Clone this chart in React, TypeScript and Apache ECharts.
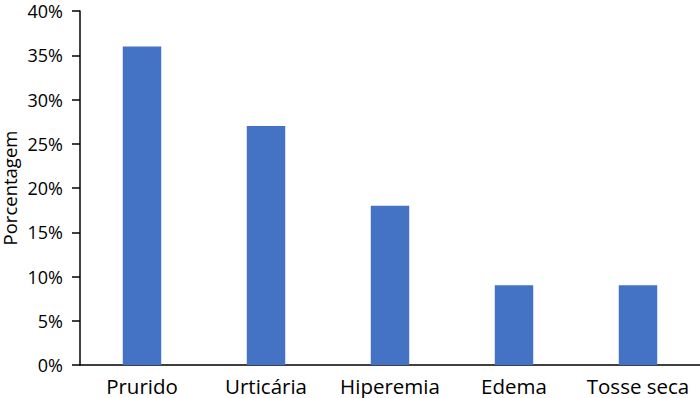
import React, { useEffect, useRef } from "react";
import * as echarts from "echarts";

const categories = ["Prurido", "Urticária", "Hiperemia", "Edema", "Tosse seca"];
const values = [36, 27, 18, 9, 9];
const yTicks = { min: 0, max: 40, interval: 5 };

export default function App() {
  const ref = useRef<HTMLDivElement>(null);
  useEffect(() => {
    const chart = echarts.init(ref.current!, null, { renderer: "svg" });
    const font = "'Open Sans', sans-serif";
    chart.setOption({
      animation: false,
      grid: { left: 80, right: 0, top: 11, bottom: 33, outerBoundsMode: "none", containLabel: false },
      xAxis: {
        type: "category",
        data: categories,
        axisLine: { lineStyle: { color: "#000", width: 1.5 } },
        axisTick: { show: false },
        axisLabel: { color: "#000", fontSize: 20.5, fontFamily: font, margin: 10, interval: 0, hideOverlap: false },
      },
      yAxis: {
        type: "value",
        min: yTicks.min,
        max: yTicks.max,
        interval: yTicks.interval,
        name: "Porcentagem",
        nameLocation: "middle",
        nameGap: 62,
        nameMoveOverlap: false,
        nameTextStyle: { color: "#000", fontSize: 18.5, fontFamily: font, lineHeight: 18 },
        axisLine: { show: true, lineStyle: { color: "#000", width: 1.5 } },
        axisTick: { show: true, length: 8, lineStyle: { color: "#000", width: 1.5 } },
        splitLine: { show: false },
        axisLabel: {
          color: "#000",
          fontSize: 18,
          fontFamily: font,
          margin: 17,
          formatter: (v: number) => v + "%",
        },
      },
      series: [
        {
          type: "bar",
          data: values,
          barWidth: "31%",
          itemStyle: { color: "#4472C4" },
        },
      ],
    });
    return () => chart.dispose();
  }, []);
  return <div ref={ref} style={{ width: 700, height: 398, position: "absolute", left: 0, top: 0 }} />;
}
